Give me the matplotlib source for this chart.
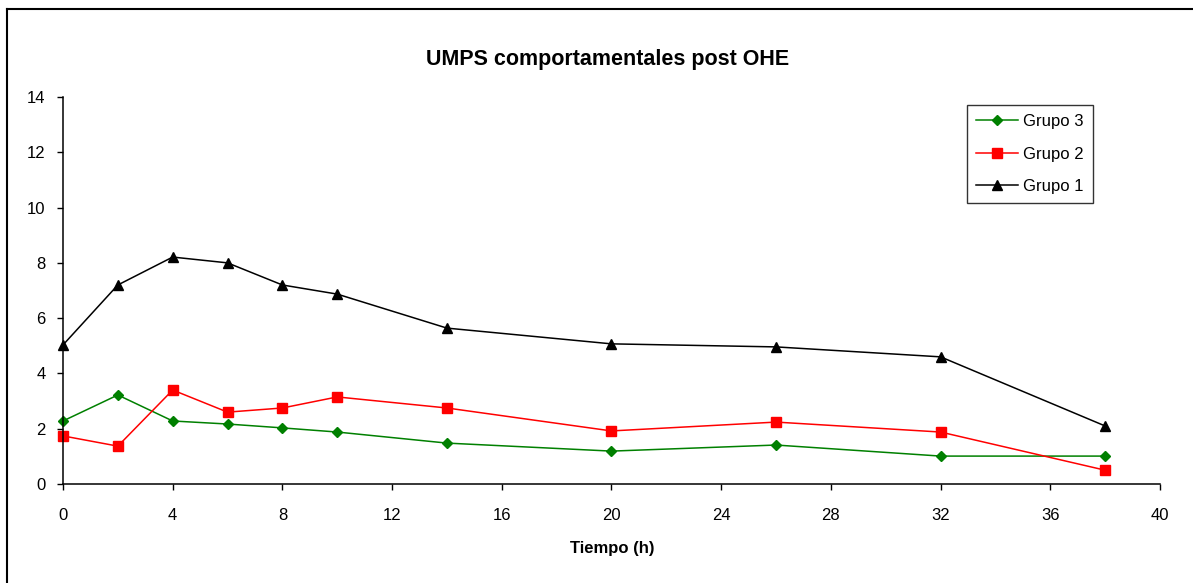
import matplotlib.pyplot as plt
from matplotlib.lines import Line2D

plt.rcParams['font.family'] = ['Liberation Sans', 'DejaVu Sans']

# horas tras la OHE
tiempo = [0, 2, 4, 6, 8, 10, 14, 20, 26, 32, 38]

grupo1 = [5.03, 7.2, 8.21, 8.0, 7.2, 6.87, 5.64, 5.07, 4.96, 4.6, 2.1]
grupo2 = [1.74, 1.37, 3.4, 2.6, 2.75, 3.15, 2.75, 1.92, 2.24, 1.88, 0.5]
grupo3 = [2.28, 3.22, 2.28, 2.17, 2.03, 1.88, 1.48, 1.19, 1.41, 1.01, 1.01]

xticks = list(range(0, 41, 4))
yticks = list(range(0, 15, 2))

fig = plt.figure(figsize=(11.93, 5.83), dpi=100)
ax = fig.add_axes([0.0528, 0.1698, 0.9195, 0.6638])

l3, = ax.plot(tiempo, grupo3, color='#008000', marker='D', markersize=5.5, lw=1.1, label='Grupo 3')
l2, = ax.plot(tiempo, grupo2, color='#ff0000', marker='s', markersize=6.5, lw=1.1, label='Grupo 2')
l1, = ax.plot(tiempo, grupo1, color='black', marker='^', markersize=7.5, lw=1.1, label='Grupo 1')

ax.set_xlim(0, 40)
ax.set_ylim(0, 14)
ax.set_xticks(xticks)
ax.set_yticks(yticks)
ax.tick_params(direction='out', length=4, width=1, labelsize=12)
ax.tick_params(axis='x', pad=13)
ax.tick_params(axis='y', pad=8.5)
for s in ['top', 'right']:
    ax.spines[s].set_visible(False)
for s in ['left', 'bottom']:
    ax.spines[s].set_linewidth(1.1)
for m in [l1, l2, l3]:
    m.set_clip_on(False)

fig.text(608 / 1193, 1 - 60 / 583, 'UMPS comportamentales post OHE', ha='center', va='center',
         fontsize=15.5, fontweight='bold')
fig.text(612 / 1193, 1 - 549 / 583, 'Tiempo (h)', ha='center', va='center',
         fontsize=12, fontweight='bold')

leg = ax.legend(handles=[l3, l2, l1], loc='upper left',
                bbox_to_anchor=(967 / 1193, 1 - 105 / 583), bbox_transform=fig.transFigure,
                fontsize=12, frameon=True, fancybox=False, edgecolor='black',
                borderpad=0.55, labelspacing=1.05, handlelength=2.5, handletextpad=0.3,
                borderaxespad=0)
leg.get_frame().set_linewidth(1.0)

# marco del gráfico
fig.add_artist(Line2D([7 / 1193, 1], [1 - 9 / 583, 1 - 9 / 583], color='black', lw=1.5,
                      transform=fig.transFigure))
fig.add_artist(Line2D([7 / 1193, 7 / 1193], [0, 1 - 9 / 583], color='black', lw=1.5,
                      transform=fig.transFigure))

fig.savefig('out.png', dpi=100)
